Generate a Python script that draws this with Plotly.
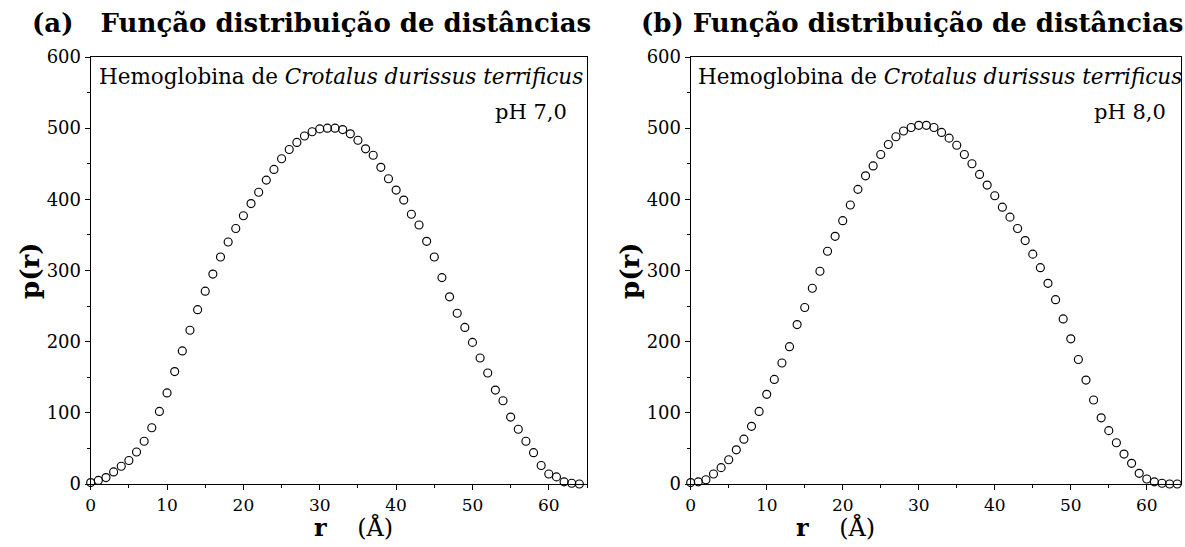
import plotly.graph_objects as go

r_a = list(range(0, 65))
p_a = [2, 5, 9, 17, 25, 33, 45, 60, 79, 102,
       128, 158, 187, 216, 245, 271, 295, 319, 340, 359,
       377, 394, 410, 427, 442, 457, 470, 480, 489, 495,
       499, 500, 500, 498, 492, 483, 471, 462, 445, 429,
       413, 399, 379, 364, 341, 319, 290, 263, 240, 220,
       199, 177, 156, 132, 117, 94, 77, 60, 44, 26,
       14, 10, 3, 1, 0]

r_b = list(range(0, 65))
p_b = [2, 3, 6, 14, 23, 34, 48, 63, 81, 102,
       126, 147, 170, 193, 224, 248, 275, 299, 327, 348,
       370, 392, 414, 433, 447, 463, 477, 488, 496, 501,
       504, 504, 501, 494, 486, 476, 463, 450, 435, 420,
       405, 389, 375, 359, 342, 323, 304, 282, 259, 232,
       204, 175, 146, 118, 93, 75, 58, 42, 29, 15,
       7, 3, 1, 0, 0]

titles = ["(a)   Função distribuição de distâncias", "(b) Função distribuição de distâncias"]
ph_labels = ["pH 7,0", "pH 8,0"]
sample_label = "Hemoglobina de <i>Crotalus durissus terrificus</i>"
y_ticks = [0, 100, 200, 300, 400, 500, 600]
x_ticks = [0, 10, 20, 30, 40, 50, 60]

W, H = 1185, 547
FONT = "DejaVu Serif"

def px(x):
    return x / W

def py(y):
    return (H - y) / H

fig = go.Figure()
marker = dict(symbol="circle-open", size=8, color="black", line=dict(width=1.15, color="black"))
fig.add_trace(go.Scatter(x=r_a, y=p_a, mode="markers", marker=marker, xaxis="x", yaxis="y",
                         showlegend=False, cliponaxis=False))
fig.add_trace(go.Scatter(x=r_b, y=p_b, mode="markers", marker=marker, xaxis="x2", yaxis="y2",
                         showlegend=False, cliponaxis=False))

ydom = [py(484), py(57)]
xa_dom = [px(90.7), px(587)]
xb_dom = [px(690.7), px(1181)]

def xax(dom, rng, anchor):
    return dict(domain=dom, range=rng, anchor=anchor, automargin=False, showgrid=False, zeroline=False,
                showline=True, linecolor="black", linewidth=1.2, mirror=True,
                ticks="outside", ticklen=5, tickwidth=1.2, tickcolor="black",
                tickvals=x_ticks, tickfont=dict(family=FONT, size=17, color="black"),
                minor=dict(ticks="outside", ticklen=3, tickwidth=1.2, tickcolor="black", dtick=5, tick0=0))

def yax(dom, anchor):
    return dict(domain=dom, range=[0, 600], anchor=anchor, automargin=False, showgrid=False, zeroline=False,
                showline=True, linecolor="black", linewidth=1.2, mirror=True,
                ticks="outside", ticklen=5, tickwidth=1.2, tickcolor="black",
                tickvals=y_ticks, tickfont=dict(family=FONT, size=18, color="black"),
                minor=dict(ticks="outside", ticklen=3, tickwidth=1.2, tickcolor="black", dtick=50, tick0=0))

annotations = []
cfg = [
    dict(title_x=30, hemo_x=97, ph_x=569, py_x=30, xl_x=312),
    dict(title_x=639, hemo_x=696, ph_x=1168, py_x=630, xl_x=794),
]
for i, c in enumerate(cfg):
    annotations.append(dict(text=f"<b>{titles[i]}</b>", xref="paper", yref="paper",
                            x=px(c["title_x"]), y=py(23), xanchor="left", yanchor="middle",
                            showarrow=False, font=dict(family=FONT, size=26, color="black")))
    annotations.append(dict(text=sample_label, xref="paper", yref="paper", x=px(c["hemo_x"]), y=py(76),
                            xanchor="left", yanchor="middle", showarrow=False,
                            font=dict(family=FONT, size=21.5, color="black")))
    annotations.append(dict(text=ph_labels[i], xref="paper", yref="paper", x=px(c["ph_x"]), y=py(112),
                            xanchor="right", yanchor="middle", showarrow=False,
                            font=dict(family=FONT, size=21, color="black")))
    annotations.append(dict(text="<b>p(r)</b>", xref="paper", yref="paper",
                            x=px(c["py_x"]), y=py(271), textangle=-90,
                            xanchor="center", yanchor="middle", showarrow=False,
                            font=dict(family=FONT, size=26, color="black")))
    annotations.append(dict(text="<b>r</b>    (Å)", xref="paper", yref="paper",
                            x=px(c["xl_x"]), y=py(527),
                            xanchor="left", yanchor="middle", showarrow=False,
                            font=dict(family=FONT, size=24, color="black")))

fig.update_layout(
    template="none",
    width=W, height=H, margin=dict(l=0, r=0, t=0, b=0, autoexpand=False),
    paper_bgcolor="white", plot_bgcolor="white",
    xaxis=xax(xa_dom, [0, 65.0], "y"), yaxis=yax(ydom, "x"),
    xaxis2=xax(xb_dom, [0, 64.5], "y2"), yaxis2=yax(ydom, "x2"),
    annotations=annotations,
)

fig.write_html("out.html")
